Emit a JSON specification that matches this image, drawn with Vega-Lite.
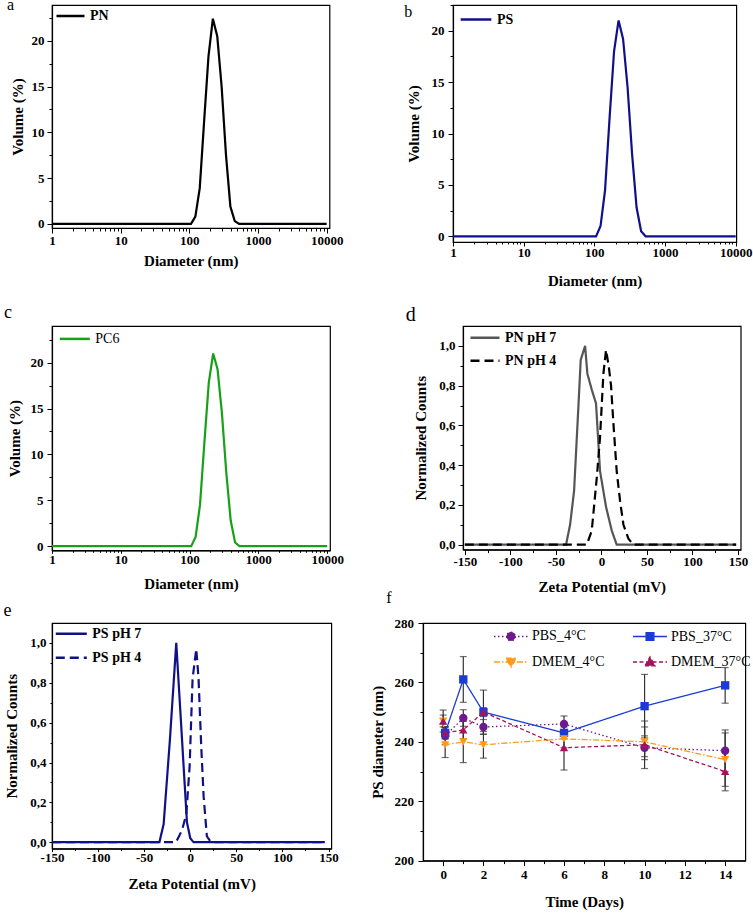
{
  "$schema": "https://vega.github.io/schema/vega-lite/v6.json",
  "background": "white",
  "padding": {"left": 3, "top": -5, "right": 0, "bottom": 0},
  "config": {
    "font": "Liberation Serif",
    "view": {"stroke": "black", "strokeWidth": 1.2},
    "axis": {
      "labelFont": "Liberation Serif", "labelFontWeight": "bold", "labelFontSize": 13, "labelColor": "black",
      "titleFont": "Liberation Serif", "titleFontWeight": "bold", "titleFontSize": 15, "titleColor": "black",
      "domainColor": "black", "domainWidth": 1.2, "tickColor": "black", "tickWidth": 1, "grid": false,
      "labelFlush": false, "labelOverlap": false, "tickSize": 5
    },
    "legend": {
      "labelFont": "Liberation Serif", "labelFontWeight": "bold", "labelFontSize": 14, "labelColor": "black",
      "padding": 0, "titlePadding": 0, "labelOffset": 4
    },
    "title": {"font": "Liberation Serif", "fontWeight": "normal", "color": "black", "anchor": "start", "frame": "group", "baseline": "alphabetic"}
  },
  "datasets": {
    "pn": [
      {"series": "PN", "diameter": 1, "volume": 0},
      {"series": "PN", "diameter": 105.7, "volume": 0},
      {"series": "PN", "diameter": 122.4, "volume": 0.8},
      {"series": "PN", "diameter": 141.8, "volume": 3.9},
      {"series": "PN", "diameter": 164.2, "volume": 11.2},
      {"series": "PN", "diameter": 190.1, "volume": 18.3},
      {"series": "PN", "diameter": 220.2, "volume": 22.4},
      {"series": "PN", "diameter": 255.0, "volume": 20.5},
      {"series": "PN", "diameter": 295.3, "volume": 15.0},
      {"series": "PN", "diameter": 342.0, "volume": 7.5},
      {"series": "PN", "diameter": 396.1, "volume": 1.9},
      {"series": "PN", "diameter": 458.7, "volume": 0.3},
      {"series": "PN", "diameter": 531.2, "volume": 0},
      {"series": "PN", "diameter": 10000, "volume": 0}
    ],
    "ps": [
      {"series": "PS", "diameter": 1, "volume": 0},
      {"series": "PS", "diameter": 105.7, "volume": 0},
      {"series": "PS", "diameter": 122.4, "volume": 1.0},
      {"series": "PS", "diameter": 141.8, "volume": 4.5},
      {"series": "PS", "diameter": 164.2, "volume": 11.5},
      {"series": "PS", "diameter": 190.1, "volume": 18.0},
      {"series": "PS", "diameter": 220.2, "volume": 21.0},
      {"series": "PS", "diameter": 255.0, "volume": 19.2},
      {"series": "PS", "diameter": 295.3, "volume": 14.5},
      {"series": "PS", "diameter": 342.0, "volume": 8.0},
      {"series": "PS", "diameter": 396.1, "volume": 2.8},
      {"series": "PS", "diameter": 458.7, "volume": 0.5},
      {"series": "PS", "diameter": 531.2, "volume": 0},
      {"series": "PS", "diameter": 10000, "volume": 0}
    ],
    "pc6": [
      {"series": "PC6", "diameter": 1, "volume": 0},
      {"series": "PC6", "diameter": 105.7, "volume": 0},
      {"series": "PC6", "diameter": 122.4, "volume": 1.0},
      {"series": "PC6", "diameter": 141.8, "volume": 4.5},
      {"series": "PC6", "diameter": 164.2, "volume": 11.3},
      {"series": "PC6", "diameter": 190.1, "volume": 17.8},
      {"series": "PC6", "diameter": 220.2, "volume": 21.0},
      {"series": "PC6", "diameter": 255.0, "volume": 19.3},
      {"series": "PC6", "diameter": 295.3, "volume": 14.5},
      {"series": "PC6", "diameter": 342.0, "volume": 8.0},
      {"series": "PC6", "diameter": 396.1, "volume": 2.8},
      {"series": "PC6", "diameter": 458.7, "volume": 0.4},
      {"series": "PC6", "diameter": 531.2, "volume": 0},
      {"series": "PC6", "diameter": 10000, "volume": 0}
    ],
    "zetaPN": [
      {"series": "PN pH 7", "zeta": -150, "counts": 0},
      {"series": "PN pH 7", "zeta": -38.8, "counts": 0},
      {"series": "PN pH 7", "zeta": -34.4, "counts": 0.1},
      {"series": "PN pH 7", "zeta": -30, "counts": 0.27},
      {"series": "PN pH 7", "zeta": -25.3, "counts": 0.69},
      {"series": "PN pH 7", "zeta": -22.7, "counts": 0.93},
      {"series": "PN pH 7", "zeta": -17.9, "counts": 1.0},
      {"series": "PN pH 7", "zeta": -15.4, "counts": 0.86},
      {"series": "PN pH 7", "zeta": -10.6, "counts": 0.78},
      {"series": "PN pH 7", "zeta": -5.9, "counts": 0.71},
      {"series": "PN pH 7", "zeta": -1.5, "counts": 0.37},
      {"series": "PN pH 7", "zeta": 5.1, "counts": 0.19},
      {"series": "PN pH 7", "zeta": 11.4, "counts": 0.07},
      {"series": "PN pH 7", "zeta": 16.8, "counts": 0},
      {"series": "PN pH 7", "zeta": 148, "counts": 0},
      {"series": "PN pH 4", "zeta": -150, "counts": 0},
      {"series": "PN pH 4", "zeta": -16, "counts": 0},
      {"series": "PN pH 4", "zeta": -10.6, "counts": 0.07},
      {"series": "PN pH 4", "zeta": -5, "counts": 0.34},
      {"series": "PN pH 4", "zeta": -1.5, "counts": 0.54},
      {"series": "PN pH 4", "zeta": 2.2, "counts": 0.86},
      {"series": "PN pH 4", "zeta": 5.1, "counts": 0.98},
      {"series": "PN pH 4", "zeta": 8, "counts": 0.9},
      {"series": "PN pH 4", "zeta": 10.6, "counts": 0.8},
      {"series": "PN pH 4", "zeta": 13.2, "counts": 0.61},
      {"series": "PN pH 4", "zeta": 16.8, "counts": 0.37},
      {"series": "PN pH 4", "zeta": 20.5, "counts": 0.22},
      {"series": "PN pH 4", "zeta": 24.2, "counts": 0.1},
      {"series": "PN pH 4", "zeta": 29.7, "counts": 0.03},
      {"series": "PN pH 4", "zeta": 35, "counts": 0},
      {"series": "PN pH 4", "zeta": 148, "counts": 0}
    ],
    "zetaPS": [
      {"series": "PS pH 7", "zeta": -150, "counts": 0},
      {"series": "PS pH 7", "zeta": -33.5, "counts": 0},
      {"series": "PS pH 7", "zeta": -28.9, "counts": 0.09},
      {"series": "PS pH 7", "zeta": -22, "counts": 0.52},
      {"series": "PS pH 7", "zeta": -15.2, "counts": 1.0},
      {"series": "PS pH 7", "zeta": -10.8, "counts": 0.66},
      {"series": "PS pH 7", "zeta": -7.2, "counts": 0.38},
      {"series": "PS pH 7", "zeta": -3.6, "counts": 0.1},
      {"series": "PS pH 7", "zeta": 0, "counts": 0.02},
      {"series": "PS pH 7", "zeta": 3.6, "counts": 0},
      {"series": "PS pH 7", "zeta": 146, "counts": 0},
      {"series": "PS pH 4", "zeta": -150, "counts": 0},
      {"series": "PS pH 4", "zeta": -15.5, "counts": 0},
      {"series": "PS pH 4", "zeta": -9, "counts": 0.06},
      {"series": "PS pH 4", "zeta": -4.3, "counts": 0.14},
      {"series": "PS pH 4", "zeta": -0.7, "counts": 0.38},
      {"series": "PS pH 4", "zeta": 2.5, "counts": 0.82},
      {"series": "PS pH 4", "zeta": 6.5, "counts": 0.97},
      {"series": "PS pH 4", "zeta": 9, "counts": 0.82},
      {"series": "PS pH 4", "zeta": 11.9, "counts": 0.48},
      {"series": "PS pH 4", "zeta": 14.5, "counts": 0.23},
      {"series": "PS pH 4", "zeta": 18, "counts": 0.03},
      {"series": "PS pH 4", "zeta": 22.4, "counts": 0},
      {"series": "PS pH 4", "zeta": 146, "counts": 0}
    ],
    "stability": [
      {"series": "PBS_4°C", "day": 0.1, "size": 242, "lo": 239, "hi": 245},
      {"series": "PBS_4°C", "day": 1, "size": 248, "lo": 245.2, "hi": 250.8},
      {"series": "PBS_4°C", "day": 2, "size": 245, "lo": 242.5, "hi": 247.5},
      {"series": "PBS_4°C", "day": 6, "size": 246, "lo": 243.3, "hi": 248.7},
      {"series": "PBS_4°C", "day": 10, "size": 238, "lo": 234, "hi": 242},
      {"series": "PBS_4°C", "day": 14, "size": 237, "lo": 230, "hi": 244},
      {"series": "PBS_37°C", "day": 0.1, "size": 243, "lo": 241, "hi": 245},
      {"series": "PBS_37°C", "day": 1, "size": 261, "lo": 253.3, "hi": 268.7},
      {"series": "PBS_37°C", "day": 2, "size": 250, "lo": 242.6, "hi": 257.4},
      {"series": "PBS_37°C", "day": 6, "size": 243, "lo": 241, "hi": 245},
      {"series": "PBS_37°C", "day": 10, "size": 252, "lo": 241.3, "hi": 262.7},
      {"series": "PBS_37°C", "day": 14, "size": 259, "lo": 253, "hi": 265},
      {"series": "DMEM_4°C", "day": 0, "size": 247, "lo": 243.3, "hi": 250.7},
      {"series": "DMEM_4°C", "day": 0.1, "size": 239, "lo": 234.7, "hi": 243.3},
      {"series": "DMEM_4°C", "day": 1, "size": 240, "lo": 233, "hi": 247},
      {"series": "DMEM_4°C", "day": 2, "size": 239, "lo": 234.5, "hi": 243.5},
      {"series": "DMEM_4°C", "day": 6, "size": 241, "lo": 238, "hi": 244},
      {"series": "DMEM_4°C", "day": 10, "size": 240, "lo": 235, "hi": 245},
      {"series": "DMEM_4°C", "day": 14, "size": 234, "lo": 225, "hi": 243},
      {"series": "DMEM_37°C", "day": 0, "size": 247, "lo": 245, "hi": 249},
      {"series": "DMEM_37°C", "day": 0.1, "size": 243, "lo": 241, "hi": 245},
      {"series": "DMEM_37°C", "day": 1, "size": 244, "lo": 241, "hi": 247},
      {"series": "DMEM_37°C", "day": 2, "size": 250, "lo": 248.5, "hi": 251.5},
      {"series": "DMEM_37°C", "day": 6, "size": 238, "lo": 230.5, "hi": 245.5},
      {"series": "DMEM_37°C", "day": 10, "size": 239, "lo": 231, "hi": 247},
      {"series": "DMEM_37°C", "day": 14, "size": 230, "lo": 223.5, "hi": 236.5}
    ]
  },
  "spacing": -7,
  "resolve": {"scale": {"x": "independent", "y": "independent", "color": "independent", "strokeDash": "independent", "shape": "independent"}, "legend": {"color": "independent", "strokeDash": "independent", "shape": "independent"}},
  "vconcat": [
    {
      "spacing": 14,
      "resolve": {"scale": {"x": "independent", "y": "independent", "color": "independent", "strokeDash": "independent", "shape": "independent"}, "legend": {"color": "independent", "strokeDash": "independent", "shape": "independent"}},
      "vconcat": [
        {
          "spacing": 59,
          "resolve": {"scale": {"x": "independent", "y": "independent", "color": "independent", "strokeDash": "independent", "shape": "independent"}, "legend": {"color": "independent", "strokeDash": "independent", "shape": "independent"}},
          "hconcat": [
            {
              "width": 277.5, "height": 223,
              "title": {"text": "a", "fontSize": 16, "dx": -45, "offset": -12},
              "data": {"name": "pn"},
              "mark": {"type": "line", "strokeWidth": 2.2},
              "encoding": {
                "x": {"field": "diameter", "type": "quantitative",
                  "scale": {"type": "log", "domain": [1, 11000], "nice": false},
                  "axis": {"title": "Diameter (nm)", "titlePadding": 6, "labelPadding": 1,
                    "values": [1,2,3,4,5,6,7,8,9,10,20,30,40,50,60,70,80,90,100,200,300,400,500,600,700,800,900,1000,2000,3000,4000,5000,6000,7000,8000,9000,10000],
                    "labelExpr": "indexof([1,10,100,1000,10000], datum.value) >= 0 ? '' + datum.value : ''",
                    "tickSize": {"condition": {"test": "indexof([1,10,100,1000,10000], datum.value) < 0", "value": 3}, "value": 5}}},
                "y": {"field": "volume", "type": "quantitative",
                  "scale": {"domain": [-0.45, 23.9], "nice": false, "zero": false},
                  "axis": {"title": "Volume (%)", "titlePadding": 6, "labelPadding": 3,
                    "values": [0,2.5,5,7.5,10,12.5,15,17.5,20,22.5],
                    "labelExpr": "datum.value % 5 == 0 ? '' + datum.value : ''",
                    "tickSize": {"condition": {"test": "datum.value % 5 != 0", "value": 3}, "value": 5}}},
                "color": {"field": "series", "type": "nominal", "scale": {"domain": ["PN"], "range": ["#000000"]},
                  "legend": {"title": null, "orient": "none", "legendX": 3, "legendY": -4.5, "symbolType": "stroke", "symbolSize": 784, "symbolStrokeWidth": 2.5}}
              }
            },
            {
              "width": 283.3, "height": 237,
              "title": {"text": "b", "fontSize": 16, "dx": -48.7, "offset": -21},
              "data": {"name": "ps"},
              "mark": {"type": "line", "strokeWidth": 2.2},
              "encoding": {
                "x": {"field": "diameter", "type": "quantitative",
                  "scale": {"type": "log", "domain": [1, 10200], "nice": false},
                  "axis": {"title": "Diameter (nm)", "titlePadding": 14, "labelPadding": 0,
                    "values": [1,2,3,4,5,6,7,8,9,10,20,30,40,50,60,70,80,90,100,200,300,400,500,600,700,800,900,1000,2000,3000,4000,5000,6000,7000,8000,9000,10000],
                    "labelExpr": "indexof([1,10,100,1000,10000], datum.value) >= 0 ? '' + datum.value : ''",
                    "tickSize": {"condition": {"test": "indexof([1,10,100,1000,10000], datum.value) < 0", "value": 2}, "value": 4}}},
                "y": {"field": "volume", "type": "quantitative",
                  "scale": {"domain": [-0.55, 22.5], "nice": false, "zero": false},
                  "axis": {"title": "Volume (%)", "titlePadding": 10, "labelPadding": 4,
                    "values": [0,2.5,5,7.5,10,12.5,15,17.5,20,22.5],
                    "labelExpr": "datum.value % 5 == 0 ? '' + datum.value : ''",
                    "tickSize": {"condition": {"test": "datum.value % 5 != 0", "value": 3}, "value": 5}}},
                "color": {"field": "series", "type": "nominal", "scale": {"domain": ["PS"], "range": ["#101088"]},
                  "legend": {"title": null, "orient": "none", "legendX": 6, "legendY": -2.5, "symbolType": "stroke", "symbolSize": 940, "symbolStrokeWidth": 2.5}}
              }
            }
          ]
        },
        {
          "spacing": 60,
          "resolve": {"scale": {"x": "independent", "y": "independent", "color": "independent", "strokeDash": "independent", "shape": "independent"}, "legend": {"color": "independent", "strokeDash": "independent", "shape": "independent"}},
          "hconcat": [
            {
              "width": 278, "height": 224.3,
              "title": {"text": "c", "fontSize": 18, "dx": -48, "offset": 0.4},
              "data": {"name": "pc6"},
              "mark": {"type": "line", "strokeWidth": 2.2},
              "encoding": {
                "x": {"field": "diameter", "type": "quantitative",
                  "scale": {"type": "log", "domain": [1, 11000], "nice": false},
                  "axis": {"title": "Diameter (nm)", "titlePadding": 10, "labelPadding": 0,
                    "values": [1,2,3,4,5,6,7,8,9,10,20,30,40,50,60,70,80,90,100,200,300,400,500,600,700,800,900,1000,2000,3000,4000,5000,6000,7000,8000,9000,10000],
                    "labelExpr": "indexof([1,10,100,1000,10000], datum.value) >= 0 ? '' + datum.value : ''",
                    "tickSize": {"condition": {"test": "indexof([1,10,100,1000,10000], datum.value) < 0", "value": 2}, "value": 3}}},
                "y": {"field": "volume", "type": "quantitative",
                  "scale": {"domain": [-0.45, 24], "nice": false, "zero": false},
                  "axis": {"title": "Volume (%)", "titlePadding": 8, "labelPadding": 4,
                    "values": [0,2.5,5,7.5,10,12.5,15,17.5,20,22.5],
                    "labelExpr": "datum.value % 5 == 0 ? '' + datum.value : ''",
                    "tickSize": {"condition": {"test": "datum.value % 5 != 0", "value": 3}, "value": 5}}},
                "color": {"field": "series", "type": "nominal", "scale": {"domain": ["PC6"], "range": ["#18A018"]},
                  "legend": {"title": null, "orient": "none", "legendX": 6.3, "legendY": -3.6, "symbolType": "stroke", "symbolSize": 900, "symbolStrokeWidth": 2.5, "labelFontWeight": "normal"}}
              }
            },
            {
              "width": 277.7, "height": 223.6,
              "title": {"text": "d", "fontSize": 20, "dx": -57.3, "offset": -3.6},
              "data": {"name": "zetaPN"},
              "mark": {"type": "line", "strokeWidth": 2.2},
              "encoding": {
                "x": {"field": "zeta", "type": "quantitative",
                  "scale": {"domain": [-152, 153], "nice": false, "zero": false},
                  "axis": {"title": "Zeta Potential (mV)", "titlePadding": 11, "labelPadding": 1,
                    "values": [-150,-125,-100,-75,-50,-25,0,25,50,75,100,125,150],
                    "labelExpr": "datum.value % 50 == 0 ? '' + datum.value : ''",
                    "tickSize": {"condition": {"test": "datum.value % 50 != 0", "value": 3}, "value": 5}}},
                "y": {"field": "counts", "type": "quantitative",
                  "scale": {"domain": [-0.025, 1.1], "nice": false, "zero": false},
                  "axis": {"title": "Normalized Counts", "titlePadding": 10, "labelPadding": 3,
                    "values": [0,0.1,0.2,0.3,0.4,0.5,0.6,0.7,0.8,0.9,1.0],
                    "labelExpr": "round(datum.value*10) % 2 == 0 ? replace(format(datum.value, '.1f'), '.', ',') : ''",
                    "tickSize": {"condition": {"test": "round(datum.value*10) % 2 == 1", "value": 3}, "value": 5}}},
                "color": {"field": "series", "type": "nominal",
                  "scale": {"domain": ["PN pH 7", "PN pH 4"], "range": ["#555555", "#000000"]},
                  "legend": {"title": null, "orient": "none", "legendX": 6, "legendY": -4.2, "symbolType": "stroke", "symbolSize": 841, "symbolStrokeWidth": 2.5, "rowPadding": -16.5}},
                "strokeDash": {"field": "series", "type": "nominal",
                  "scale": {"domain": ["PN pH 7", "PN pH 4"], "range": [[1, 0], [9, 5]]}}
              }
            }
          ]
        }
      ]
    },
    {
      "spacing": 30,
      "resolve": {"scale": {"x": "independent", "y": "independent", "color": "independent", "strokeDash": "independent", "shape": "independent"}, "legend": {"color": "independent", "strokeDash": "independent", "shape": "independent"}},
      "hconcat": [
        {
          "width": 279.3, "height": 225.6,
          "title": {"text": "e", "fontSize": 18, "dx": -48.4, "offset": -3},
          "data": {"name": "zetaPS"},
          "mark": {"type": "line", "strokeWidth": 2.2},
          "encoding": {
            "x": {"field": "zeta", "type": "quantitative",
              "scale": {"domain": [-150, 153], "nice": false, "zero": false},
              "axis": {"title": "Zeta Potential (mV)", "titlePadding": 12, "labelPadding": 0,
                "values": [-150,-125,-100,-75,-50,-25,0,25,50,75,100,125,150],
                "labelExpr": "datum.value % 50 == 0 ? '' + datum.value : ''",
                "tickSize": {"condition": {"test": "datum.value % 50 != 0", "value": 2}, "value": 3}}},
            "y": {"field": "counts", "type": "quantitative",
              "scale": {"domain": [-0.032, 1.1], "nice": false, "zero": false},
              "axis": {"title": "Normalized Counts", "titlePadding": 10, "labelPadding": 3,
                "values": [0,0.1,0.2,0.3,0.4,0.5,0.6,0.7,0.8,0.9,1.0],
                "labelExpr": "round(datum.value*10) % 2 == 0 ? replace(format(datum.value, '.1f'), '.', ',') : ''",
                "tickSize": {"condition": {"test": "round(datum.value*10) % 2 == 1", "value": 2}, "value": 3}}},
            "color": {"field": "series", "type": "nominal",
              "scale": {"domain": ["PS pH 7", "PS pH 4"], "range": ["#101088", "#101088"]},
              "legend": {"title": null, "orient": "none", "legendX": 2.3, "legendY": -6.2, "symbolType": "stroke", "symbolSize": 961, "symbolStrokeWidth": 2.5, "rowPadding": -16.1}},
            "strokeDash": {"field": "series", "type": "nominal",
              "scale": {"domain": ["PS pH 7", "PS pH 4"], "range": [[1, 0], [9, 5]]}}
          }
        },
        {
          "width": 322.3, "height": 237.6,
          "title": {"text": "f", "fontSize": 16, "dx": -36.7, "offset": 10.7},
          "data": {"name": "stability"},
          "encoding": {
            "x": {"field": "day", "type": "quantitative",
              "scale": {"domain": [-1, 15], "nice": false, "zero": false},
              "axis": {"title": "Time (Days)", "titlePadding": 13, "labelPadding": 2.5,
                "values": [0,1,2,3,4,5,6,7,8,9,10,11,12,13,14],
                "labelExpr": "datum.value % 2 == 0 ? '' + datum.value : ''",
                "tickSize": {"condition": {"test": "datum.value % 2 != 0", "value": 3}, "value": 5}}},
            "y": {"type": "quantitative",
              "scale": {"domain": [200, 280], "nice": false, "zero": false},
              "axis": {"title": "PS diameter (nm)", "titlePadding": 8.7, "labelPadding": 4.4,
                "values": [200,210,220,230,240,250,260,270,280],
                "labelExpr": "datum.value % 20 == 0 ? '' + datum.value : ''",
                "tickSize": {"condition": {"test": "datum.value % 20 != 0", "value": 3}, "value": 5}}}
          },
          "layer": [
            {
              "mark": {"type": "rule", "strokeWidth": 1.2, "color": "#333333"},
              "encoding": {
                "y": {"field": "lo", "type": "quantitative"},
                "y2": {"field": "hi"}
              }
            },
            {
              "mark": {"type": "tick", "orient": "horizontal", "size": 7, "thickness": 1.2, "color": "#333333"},
              "encoding": {
                "y": {"field": "lo", "type": "quantitative"}
              }
            },
            {
              "mark": {"type": "tick", "orient": "horizontal", "size": 7, "thickness": 1.2, "color": "#333333"},
              "encoding": {
                "y": {"field": "hi", "type": "quantitative"}
              }
            },
            {
              "mark": {"type": "line", "strokeWidth": 1.3},
              "encoding": {
                "y": {"field": "size", "type": "quantitative"},
                "color": {"field": "series", "type": "nominal",
                  "scale": {"domain": ["PBS_4°C", "DMEM_4°C", "PBS_37°C", "DMEM_37°C"], "range": ["#6C1A8E", "#FF9A1A", "#1B3BD4", "#A3145F"]},
                  "legend": {"title": null, "orient": "none", "legendX": 70, "legendY": -5, "columns": 2, "columnPadding": 25, "rowPadding": -17.9,
                    "symbolType": "stroke", "symbolSize": 1156, "symbolStrokeWidth": 1.3, "labelFontWeight": "normal", "labelFontSize": 14, "labelOffset": 3,
                    "encode": {"symbols": {"update": {
                      "fill": {"signal": "datum.value == 'PBS_4°C' ? '#6C1A8E' : datum.value == 'PBS_37°C' ? '#1B3BD4' : datum.value == 'DMEM_4°C' ? '#FF9A1A' : '#A3145F'"},
                      "shape": {"signal": "datum.value == 'PBS_4°C' ? 'M-1,0L1,0M0.26,0A0.26,0.26,0,1,1,-0.26,0A0.26,0.26,0,1,1,0.26,0Z' : datum.value == 'PBS_37°C' ? 'M-1,0L1,0M-0.23,-0.23L0.23,-0.23L0.23,0.23L-0.23,0.23Z' : datum.value == 'DMEM_4°C' ? 'M-1,0L1,0M-0.3,-0.22L0.3,-0.22L0,0.3Z' : 'M-1,0L1,0M-0.3,0.22L0.3,0.22L0,-0.3Z'"}
                    }}}}},
                "strokeDash": {"field": "series", "type": "nominal",
                  "scale": {"domain": ["PBS_4°C", "DMEM_4°C", "PBS_37°C", "DMEM_37°C"], "range": [[1.5, 2.5], [6, 2, 1.5, 2], [1, 0], [4, 2.5]]}}
              }
            },
            {
              "mark": {"type": "point", "filled": true, "opacity": 1, "size": 70},
              "encoding": {
                "y": {"field": "size", "type": "quantitative"},
                "color": {"field": "series", "type": "nominal", "legend": null},
                "shape": {"field": "series", "type": "nominal", "legend": null,
                  "scale": {"domain": ["DMEM_37°C", "DMEM_4°C", "PBS_37°C", "PBS_4°C"], "range": ["triangle-up", "triangle-down", "square", "circle"]}}
              }
            }
          ]
        }
      ]
    }
  ]
}
